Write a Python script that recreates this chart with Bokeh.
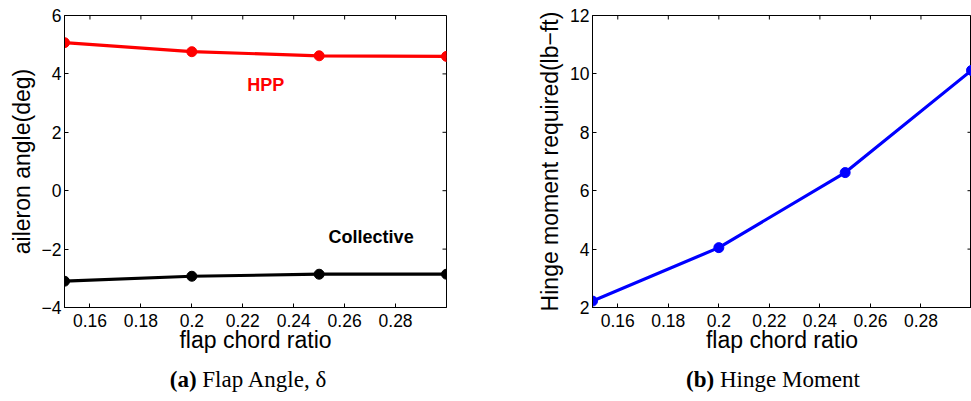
from bokeh.plotting import figure
from bokeh.models import FixedTicker, Label, Div, Range1d
from bokeh.layouts import column, row
from bokeh.embed import file_html
from bokeh.resources import INLINE

# ---- data ----
flap_chord_ratio = [0.15, 0.20, 0.25, 0.30]
hpp_angle = [5.07, 4.76, 4.62, 4.60]
collective_angle = [-3.10, -2.93, -2.86, -2.86]
hinge_moment = [2.22, 4.05, 6.62, 10.12]

x_ticks = [0.16, 0.18, 0.20, 0.22, 0.24, 0.26, 0.28]
x_tick_labels = ["0.16", "0.18", "0.2", "0.22", "0.24", "0.26", "0.28"]
ya_ticks = [-4, -2, 0, 2, 4, 6]
ya_tick_labels = ["\u22124", "\u22122", "0", "2", "4", "6"]
yb_ticks = [2, 4, 6, 8, 10, 12]
yb_tick_labels = ["2", "4", "6", "8", "10", "12"]

SANS = "Liberation Sans"
SERIF = "Liberation Serif"
X_RANGE = (0.15, 0.30)
B_TOP = 15
FRAME_H = 292
B_BOTTOM = 55
FIG_H = B_TOP + FRAME_H + B_BOTTOM
TICK_LEN = 4


def style_axis(ax, ticks, labels):
    ax.ticker = FixedTicker(ticks=ticks)
    ax.major_label_overrides = {t: l for t, l in zip(ticks, labels)}
    ax.major_tick_in = TICK_LEN
    ax.major_tick_out = 0
    ax.major_tick_line_color = "black"
    ax.minor_tick_line_color = None
    ax.axis_line_color = "black"
    ax.major_label_text_font = SANS
    ax.major_label_text_color = "black"
    ax.major_label_text_font_size = "17.5px"


def make_fig(width, min_left, min_right, y_rng, yticks, ylabels, ylabel):
    frame_w = width - min_left - min_right
    p = figure(width=width, height=FIG_H, output_backend="svg", toolbar_location=None,
               x_range=Range1d(*X_RANGE), y_range=Range1d(*y_rng),
               min_border_left=min_left, min_border_right=min_right,
               min_border_top=B_TOP, min_border_bottom=B_BOTTOM)
    p.xgrid.visible = False
    p.ygrid.visible = False
    p.outline_line_color = "black"
    p.outline_line_width = 1
    p.background_fill_color = "white"
    p.border_fill_color = "white"
    style_axis(p.xaxis[0], x_ticks, x_tick_labels)
    style_axis(p.yaxis[0], yticks, ylabels)
    p.xaxis[0].major_label_standoff = 6
    p.yaxis[0].major_label_standoff = 3
    p.xaxis[0].axis_label = "flap chord ratio"
    p.yaxis[0].axis_label = ylabel
    for ax in (p.xaxis[0], p.yaxis[0]):
        ax.axis_label_text_font = SANS
        ax.axis_label_text_font_size = "23px"
        ax.axis_label_text_font_style = "normal"
        ax.axis_label_text_color = "black"
    p.xaxis[0].axis_label_standoff = -3
    p.yaxis[0].axis_label_standoff = 4
    # inward ticks on the top and right edges of the box
    dy = TICK_LEN * (y_rng[1] - y_rng[0]) / FRAME_H
    dx = TICK_LEN * (X_RANGE[1] - X_RANGE[0]) / frame_w
    p.segment(x0=x_ticks, x1=x_ticks, y0=[y_rng[1]] * len(x_ticks),
              y1=[y_rng[1] - dy] * len(x_ticks), line_color="black", line_width=1)
    p.segment(x0=[X_RANGE[1]] * len(yticks), x1=[X_RANGE[1] - dx] * len(yticks),
              y0=yticks, y1=yticks, line_color="black", line_width=1)
    return p


# (a) flap angle
pa = make_fig(466, 64, 20, (-4, 6), ya_ticks, ya_tick_labels, "aileron angle(deg)")
pa.line(flap_chord_ratio, hpp_angle, line_color="#ff0000", line_width=3.2)
pa.scatter(flap_chord_ratio, hpp_angle, size=10, fill_color="#ff0000", line_color="#ff0000")
pa.line(flap_chord_ratio, collective_angle, line_color="black", line_width=3.2)
pa.scatter(flap_chord_ratio, collective_angle, size=10, fill_color="black", line_color="black")
pa.add_layout(Label(x=0.229, y=3.61, text="HPP", text_color="#ff0000",
                    text_font=SANS, text_font_size="18px", text_font_style="bold",
                    text_align="center", text_baseline="middle"))
pa.add_layout(Label(x=0.2704, y=-1.59, text="Collective", text_color="black",
                    text_font=SANS, text_font_size="18px", text_font_style="bold",
                    text_align="center", text_baseline="middle"))

# (b) hinge moment
pb = make_fig(505, 126, 0, (2, 12), yb_ticks, yb_tick_labels,
              "Hinge moment required(lb\u2212ft)")
pb.line(flap_chord_ratio, hinge_moment, line_color="#0000ff", line_width=3.2)
pb.scatter(flap_chord_ratio, hinge_moment, size=10, fill_color="#0000ff", line_color="#0000ff")


def caption(bold, rest, width, pad_left):
    html = ('<div style="width:%dpx;box-sizing:border-box;font-family:\'%s\';font-size:23px;'
            'line-height:1.1;color:black;text-align:center;padding-left:%dpx;padding-top:5px;'
            'white-space:nowrap;">'
            '<b>%s</b> %s</div>') % (width, SERIF, pad_left, bold, rest)
    return Div(text=html, width=width, height=39, margin=0)


ca = caption("(a)", "Flap Angle, \u03b4", 466, 30)
cb = caption("(b)", "Hinge Moment", 505, 109)

layout = column(row(pa, pb), row(ca, cb))

with open("out.html", "w") as f:
    f.write(file_html(layout, INLINE))
